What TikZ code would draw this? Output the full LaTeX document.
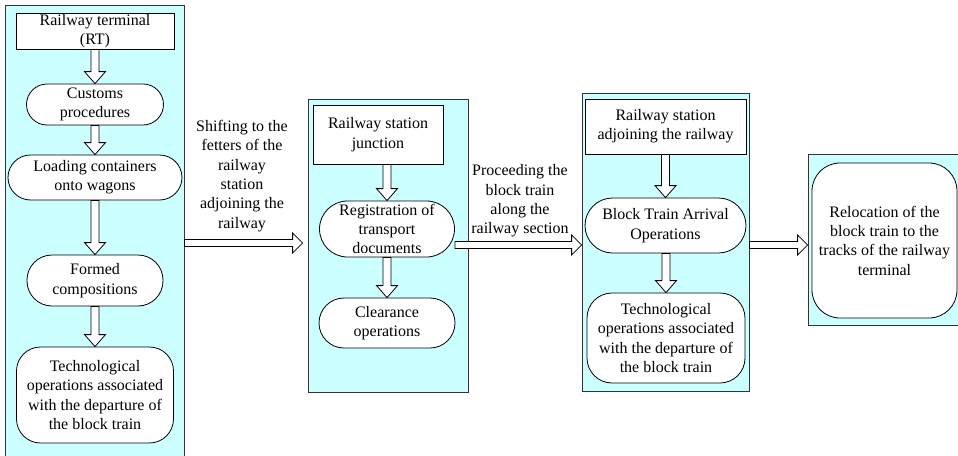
\documentclass[tikz,border=0pt]{standalone}
\usepackage{fontspec}
\setmainfont{Liberation Serif}
\usetikzlibrary{calc}
\definecolor{panelcyan}{RGB}{204,255,255}
\tikzset{
  panel/.style = {draw=black!80, fill=panelcyan, inner sep=0pt},
  box/.style = {draw, fill=white, align=center, inner sep=0pt},
  pill/.style = {box, rounded corners=#1},
  pill/.default = 20pt,
  label/.style = {align=center, inner sep=0pt},
  hollowdown/.style = {to path={let \p1=(\tikztostart), \p2=(\tikztotarget) in
    (\x2-4,\y1) -- (\x2-4,\y2+12) -- (\x2-10.5,\y2+12) -- (\x2,\y2)
    -- (\x2+10.5,\y2+12) -- (\x2+4,\y2+12) -- (\x2+4,\y1) -- cycle}},
  hollowright/.style = {to path={let \p1=(\tikztostart), \p2=(\tikztotarget) in
    (\x1,\y2+3.5) -- (\x2-10,\y2+3.5) -- (\x2-10,\y2+10) -- (\x2,\y2)
    -- (\x2-10,\y2-10) -- (\x2-10,\y2-3.5) -- (\x1,\y2-3.5) -- cycle}},
}

\begin{document}
\begin{tikzpicture}[x=1pt, y=-1pt, thick, font=\rmfamily\fontsize{16}{19.3}\selectfont]
\useasboundingbox (0,0) rectangle (958,455);

% panels
\node[panel, minimum width=179pt, minimum height=452pt] (p1) at (94.5,231) {};
\node[panel, minimum width=160pt, minimum height=293pt] (p2) at (388,245.5) {};
\node[panel, minimum width=167pt, minimum height=298pt] (p3) at (665.5,242) {};
\node[panel, minimum width=150pt, minimum height=171pt] (p4) at (883,239.5) {};

% railway terminal
\node[box, minimum width=158pt, minimum height=36pt] (rt) at (95,31) {Railway terminal\\(RT)};
\node[pill=20.5pt, minimum width=137pt, minimum height=41pt] (customs) at (95,104.5) {Customs\\procedures};
\node[pill=22.5pt, minimum width=174pt, minimum height=45pt] (loading) at (95,177.5) {Loading containers\\onto wagons};
\node[pill=25pt, minimum width=136pt, minimum height=51pt] (formed) at (95,280.5) {Formed\\compositions};
\node[pill=24pt, minimum width=157pt, minimum height=96pt] (depart) at (95,395) {Technological\\operations associated\\with the departure of\\the block train};

% junction station
\node[box, minimum width=130pt, minimum height=59pt] (junction) at (378,134.5) {Railway station\\junction};
\node[pill=28pt, minimum width=135pt, minimum height=56pt] (regist) at (387,229) {Registration of\\transport\\documents};
\node[pill=25pt, minimum width=136pt, minimum height=50pt] (clear) at (387,323) {Clearance\\operations};

% adjoining station
\node[box, minimum width=161pt, minimum height=55pt] (station) at (665.5,126.5) {Railway station\\adjoining the railway};
\node[pill=27.5pt, minimum width=161pt, minimum height=55pt] (arrival) at (665.5,225.5) {Block Train Arrival\\Operations};
\node[pill=25pt, minimum width=158pt, minimum height=90pt] (departb) at (666,338) {Technological\\operations associated\\with the departure of\\the block train};

% terminal tracks
\node[box, rounded corners=28pt, minimum width=145pt, minimum height=155pt] (reloc) at (884.5,240.5) {Relocation of the\\block train to the\\tracks of the railway\\terminal};

% transfer labels
\node[label] (shiftlbl) at (242,176) {Shifting to the\\fetters of the\\railway\\station\\adjoining the\\railway};
\node[label] (proclbl) at (520,201) {Proceeding the\\block train\\along the\\railway section};

% hollow arrows
\draw[fill=white] (rt.south) to[hollowdown] (customs.north);
\draw[fill=white] (customs.south) to[hollowdown] (loading.north);
\draw[fill=white] (loading.south) to[hollowdown] (formed.north);
\draw[fill=white] (formed.south) to[hollowdown] (depart.north);
\draw[fill=white] ([xshift=11pt]junction.south) to[hollowdown] (regist.north);
\draw[fill=white] (regist.south) to[hollowdown] (clear.north);
\draw[fill=white] (station.south) to[hollowdown] (arrival.north);
\draw[fill=white] (arrival.south) to[hollowdown] (departb.north);
\draw[fill=white] (p1.east) to[hollowright] ([xshift=-5pt,yshift=2.5pt]p2.west);
\draw[fill=white] (regist.east) to[hollowright] ([yshift=-3pt]p3.west);
\draw[fill=white] (p3.east) to[hollowright] ([yshift=-5.5pt]p4.west);
\end{tikzpicture}
\end{document}
